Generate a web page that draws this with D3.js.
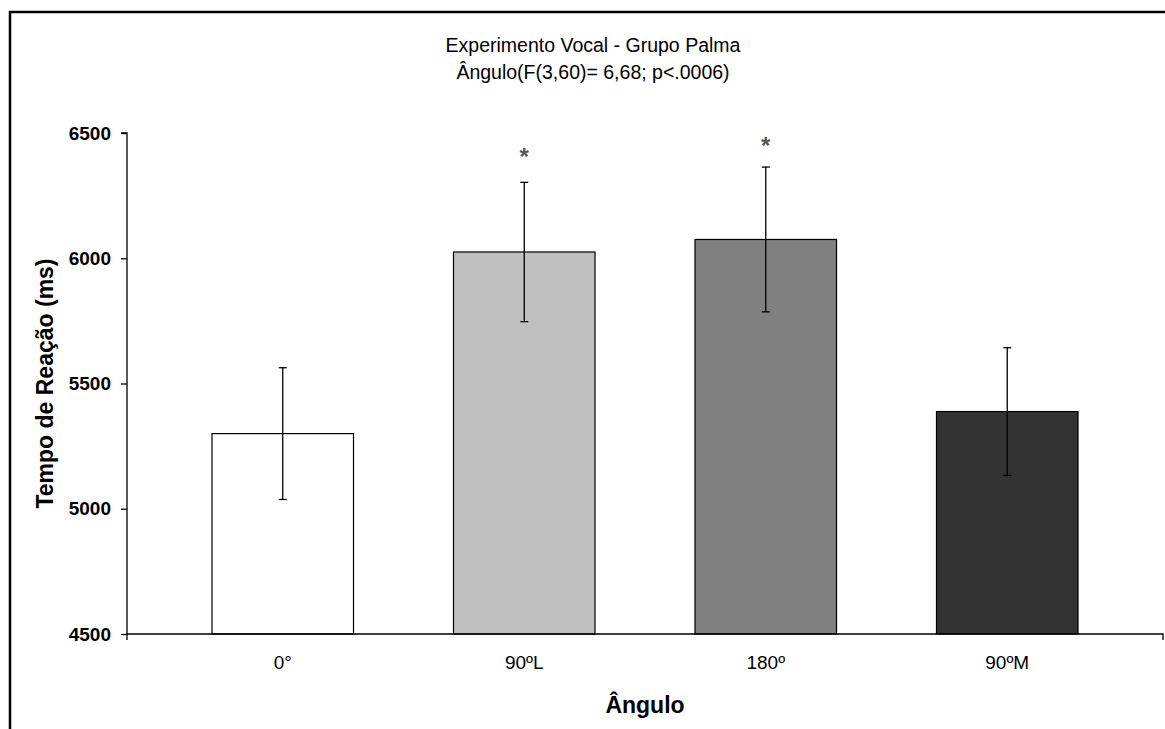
<!DOCTYPE html>
<html><head><meta charset="utf-8">
<script src="https://cdn.jsdelivr.net/npm/d3@7"></script>
<style>
html,body{margin:0;padding:0;background:#fff;}
svg{display:block;font-family:"Liberation Sans",Arial,sans-serif;}
</style></head>
<body>
<script>
const categories = ["0°", "90ºL", "180º", "90ºM"];
const means = [5300, 6025, 6075, 5388];
const errors = [263, 278, 289, 255];
const fills = ["#ffffff", "#c0c0c0", "#808080", "#333333"];
const asteriskValues = [null, 6424, 6468, null];
const yTicks = [4500, 5000, 5500, 6000, 6500];
const titleLines = ["Experimento Vocal - Grupo Palma", "Ângulo(F(3,60)= 6,68; p<.0006)"];
const yTitle = "Tempo de Reação (ms)";
const xTitle = "Ângulo";

const W = 1165, H = 729;
const plot = {left: 127, right: 1163, top: 133, bottom: 634};

const svg = d3.select("body").append("svg").attr("width", W).attr("height", H);
svg.append("rect").attr("width", W).attr("height", H).attr("fill", "#fff");

// outer frame (cropped at right and bottom)
svg.append("path").attr("d", `M10,${H+5} L10,12 L${W+5},12`)
  .attr("fill", "none").attr("stroke", "#000").attr("stroke-width", 2.5);

const y = d3.scaleLinear().domain([4500, 6500]).range([plot.bottom, plot.top]);
const x = d3.scaleBand().domain(categories).range([162, 1128]).paddingInner(0.414).paddingOuter(0.207);

// bars
svg.append("g").selectAll("rect").data(categories).join("rect")
  .attr("x", d => x(d)).attr("width", x.bandwidth())
  .attr("y", (d, i) => y(means[i])).attr("height", (d, i) => y(4500) - y(means[i]))
  .attr("fill", (d, i) => fills[i]).attr("stroke", "#000").attr("stroke-width", 1.2);

// error bars
const eg = svg.append("g").attr("stroke", "#000").attr("stroke-width", 1.3);
categories.forEach((c, i) => {
  const cx = x(c) + x.bandwidth() / 2;
  const hi = y(means[i] + errors[i]), lo = y(means[i] - errors[i]);
  eg.append("line").attr("x1", cx).attr("x2", cx).attr("y1", hi).attr("y2", lo);
  eg.append("line").attr("x1", cx - 4).attr("x2", cx + 4).attr("y1", hi).attr("y2", hi);
  eg.append("line").attr("x1", cx - 4).attr("x2", cx + 4).attr("y1", lo).attr("y2", lo);
});

// asterisks
categories.forEach((c, i) => {
  if (asteriskValues[i] == null) return;
  svg.append("text").attr("x", x(c) + x.bandwidth() / 2).attr("y", y(asteriskValues[i]) + 13)
    .attr("text-anchor", "middle").attr("font-size", 24).attr("font-weight", "bold")
    .attr("fill", "#555").text("*");
});

// y axis
const yAxis = d3.axisLeft(y).tickValues(yTicks).tickSize(6).tickPadding(10).tickFormat(d3.format("d"));
const gy = svg.append("g").attr("transform", `translate(${plot.left},0)`).call(yAxis);
gy.select(".domain").attr("stroke", "#000").attr("stroke-width", 1.3).attr("d", `M-6,${plot.top}H0V${plot.bottom}`);
gy.selectAll(".tick line").attr("stroke", "#000").attr("stroke-width", 1.3);
gy.selectAll(".tick text").attr("font-size", 19).attr("font-weight", "bold").attr("fill", "#000")
  .attr("font-family", "Liberation Sans, Arial, sans-serif");

// x axis
const xAxis = d3.axisBottom(x).tickSize(0).tickPadding(22);
const gx = svg.append("g").attr("transform", `translate(0,${plot.bottom})`).call(xAxis);
gx.select(".domain").remove();
gx.selectAll(".tick text").attr("font-size", 19).attr("fill", "#000")
  .attr("font-family", "Liberation Sans, Arial, sans-serif");
svg.append("path").attr("d", `M${plot.left},${plot.bottom + 6}V${plot.bottom}H${plot.right}V${plot.bottom + 6}`)
  .attr("fill", "none").attr("stroke", "#000").attr("stroke-width", 1.3);

// titles
const t = svg.append("text").attr("text-anchor", "middle").attr("font-size", 19.5).attr("fill", "#000");
titleLines.forEach((l, i) => t.append("tspan").attr("x", 593).attr("y", 52 + i * 27).text(l));

svg.append("text").attr("x", (plot.left + plot.right) / 2).attr("y", 713)
  .attr("text-anchor", "middle").attr("font-size", 23).attr("font-weight", "bold").text(xTitle);
svg.append("text").attr("transform", `translate(53,${(plot.top + plot.bottom) / 2}) rotate(-90)`)
  .attr("text-anchor", "middle").attr("font-size", 23).attr("font-weight", "bold").text(yTitle);
</script>
</body></html>
